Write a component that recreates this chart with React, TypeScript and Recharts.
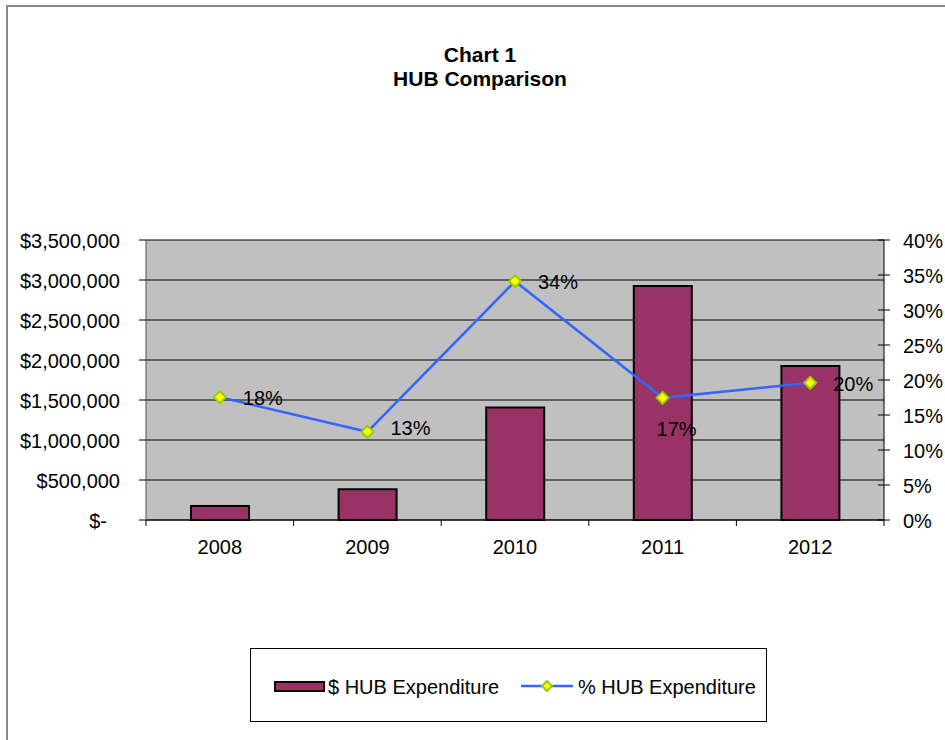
import React from "react";
import {
  ComposedChart,
  Bar,
  Line,
  XAxis,
  YAxis,
  CartesianGrid,
  LabelList,
  Legend,
} from "recharts";

const years = ["2008", "2009", "2010", "2011", "2012"];
const hubDollars = [175000, 385000, 1405000, 2925000, 1925000];
const hubPercent = [0.1755, 0.126, 0.341, 0.1745, 0.196];
const dollarTicks = [0, 500000, 1000000, 1500000, 2000000, 2500000, 3000000, 3500000];
const percentTicks = [0, 0.05, 0.1, 0.15, 0.2, 0.25, 0.3, 0.35, 0.4];

const data = years.map((year, i) => ({
  year,
  dollars: hubDollars[i],
  percent: hubPercent[i],
}));

const FONT = "'Liberation Sans', Arial, sans-serif";
const FS = 20;
const BAR_FILL = "#993366";
const LINE_COLOR = "#3366ff";
const MARKER_FILL = "#ffff00";
const MARKER_STROKE = "#99cc00";

function pct(v: number): string {
  return `${Math.round(v * 100)}%`;
}

function dollars(v: number): string {
  if (v === 0) return "$-";
  return "$" + v.toLocaleString("en-US");
}

function diamond(cx: number, cy: number, r: number) {
  return `M${cx},${cy - r} L${cx + r},${cy} L${cx},${cy + r} L${cx - r},${cy} Z`;
}

function Marker(props: any) {
  const { cx, cy, index } = props;
  if (cx == null || cy == null) return null;
  return (
    <path
      key={`dot-${index}`}
      d={diamond(cx, cy, 6)}
      fill={MARKER_FILL}
      stroke={MARKER_STROKE}
      strokeWidth={2}
    />
  );
}

function PercentLabel(props: any) {
  const { x, y, value, index } = props;
  // the 2011 label sits under its marker, the rest to the right
  const below = index === 3;
  const lift = index === 1 ? -4 : 1;
  return (
    <text
      x={below ? x - 6 : x + 23}
      y={below ? y + 31 : y + lift}
      dominantBaseline="central"
      fontSize={FS}
      fontFamily={FONT}
      fill="#000"
    >
      {pct(value)}
    </text>
  );
}

function YearTick(props: any) {
  const { x, y, payload, index, visibleTicksCount } = props;
  const half = payload.offset ?? 0;
  const top = y - 6;
  return (
    <g>
      <line x1={x - half} y1={top} x2={x - half} y2={top + 6} stroke="#000" />
      {index === visibleTicksCount - 1 && (
        <line x1={x + half} y1={top} x2={x + half} y2={top + 6} stroke="#000" />
      )}
      <text
        x={x}
        y={y + 21}
        textAnchor="middle"
        dominantBaseline="central"
        fontSize={FS}
        fontFamily={FONT}
        fill="#000"
      >
        {payload.value}
      </text>
    </g>
  );
}

function DollarTick(props: any) {
  const { x, y, payload } = props;
  const v = payload.value as number;
  return (
    <text
      x={v === 0 ? x - 13 : x}
      y={y + 1}
      textAnchor="end"
      dominantBaseline="central"
      fontSize={FS}
      fontFamily={FONT}
      fill="#000"
    >
      {dollars(v)}
    </text>
  );
}

function PercentTick(props: any) {
  const { x, y, payload } = props;
  return (
    <g>
      <line x1={x - 25} y1={y} x2={x - 13} y2={y} stroke="#000" />
      <text
        x={x}
        y={y + 1}
        textAnchor="start"
        dominantBaseline="central"
        fontSize={FS}
        fontFamily={FONT}
        fill="#000"
      >
        {pct(payload.value)}
      </text>
    </g>
  );
}

function LegendBox() {
  return (
    <div
      style={{
        width: 517,
        height: 74,
        boxSizing: "border-box",
        border: "1px solid #000",
        background: "#fff",
        position: "relative",
      }}
    >
      <svg width={515} height={72} style={{ position: "absolute", left: 0, top: 0 }}>
        <rect x={24} y={33} width={49} height={9} fill={BAR_FILL} stroke="#000" strokeWidth={2} />
        <text x={77} y={38} dominantBaseline="central" fontSize={FS} fontFamily={FONT}>
          $ HUB Expenditure
        </text>
        <line x1={270} y1={37} x2={322} y2={37} stroke={LINE_COLOR} strokeWidth={2.5} />
        <path d={diamond(296, 37, 5)} fill={MARKER_FILL} stroke={MARKER_STROKE} strokeWidth={2} />
        <text x={327} y={38} dominantBaseline="central" fontSize={FS} fontFamily={FONT}>
          % HUB Expenditure
        </text>
      </svg>
    </div>
  );
}

export default function App() {
  return (
    <div
      style={{
        position: "absolute",
        left: 0,
        top: 0,
        width: 945,
        height: 740,
        overflow: "hidden",
        background: "#fff",
      }}
    >
      <div
        style={{
          position: "absolute",
          left: 6,
          top: 5,
          width: 1000,
          height: 800,
          borderLeft: "2px solid #8a8a8a",
          borderTop: "2px solid #8a8a8a",
        }}
      />
      <div
        style={{
          position: "absolute",
          left: 0,
          top: 43,
          width: 960,
          textAlign: "center",
          fontFamily: FONT,
          fontWeight: "bold",
          fontSize: 21,
          lineHeight: "24px",
          color: "#000",
        }}
      >
        <div>Chart 1</div>
        <div>HUB Comparison</div>
      </div>
      <div style={{ position: "absolute", left: 0, top: 0 }}>
        <ComposedChart
          width={945}
          height={740}
          data={data}
          margin={{ top: 240, right: 0, bottom: 180, left: 0 }}
          barCategoryGap={0}
        >
          <CartesianGrid
            yAxisId="usd"
            vertical={false}
            stroke="#000"
            fill="#c0c0c0"
            fillOpacity={1}
          />
          <XAxis
            dataKey="year"
            stroke="#000"
            tickLine={false}
            tickSize={6}
            tickMargin={0}
            height={40}
            tick={<YearTick />}
            interval={0}
          />
          <YAxis
            yAxisId="usd"
            width={146}
            domain={[0, 3500000]}
            ticks={dollarTicks}
            stroke="#555"
            tickSize={7}
            tickMargin={19}
            tick={<DollarTick />}
            tickLine={{ stroke: "#000" }}
            interval={0}
          />
          <YAxis
            yAxisId="pct"
            orientation="right"
            width={61}
            domain={[0, 0.4]}
            ticks={percentTicks}
            stroke="#000"
            tickLine={false}
            tickSize={6}
            tickMargin={13}
            tick={<PercentTick />}
            interval={0}
          />
          <Bar
            yAxisId="usd"
            dataKey="dollars"
            name="$ HUB Expenditure"
            fill={BAR_FILL}
            stroke="#000"
            strokeWidth={2}
            barSize={58}
            isAnimationActive={false}
          />
          <Line
            yAxisId="pct"
            dataKey="percent"
            name="% HUB Expenditure"
            stroke={LINE_COLOR}
            strokeWidth={2.5}
            dot={Marker}
            activeDot={false}
            isAnimationActive={false}
          >
            <LabelList dataKey="percent" content={PercentLabel} />
          </Line>
          <Legend
            layout="horizontal"
            verticalAlign="middle"
            align="center"
            content={() => <LegendBox />}
            wrapperStyle={{ left: 250, top: 648, width: 517, height: 74, bottom: "auto" }}
          />
        </ComposedChart>
      </div>
    </div>
  );
}
